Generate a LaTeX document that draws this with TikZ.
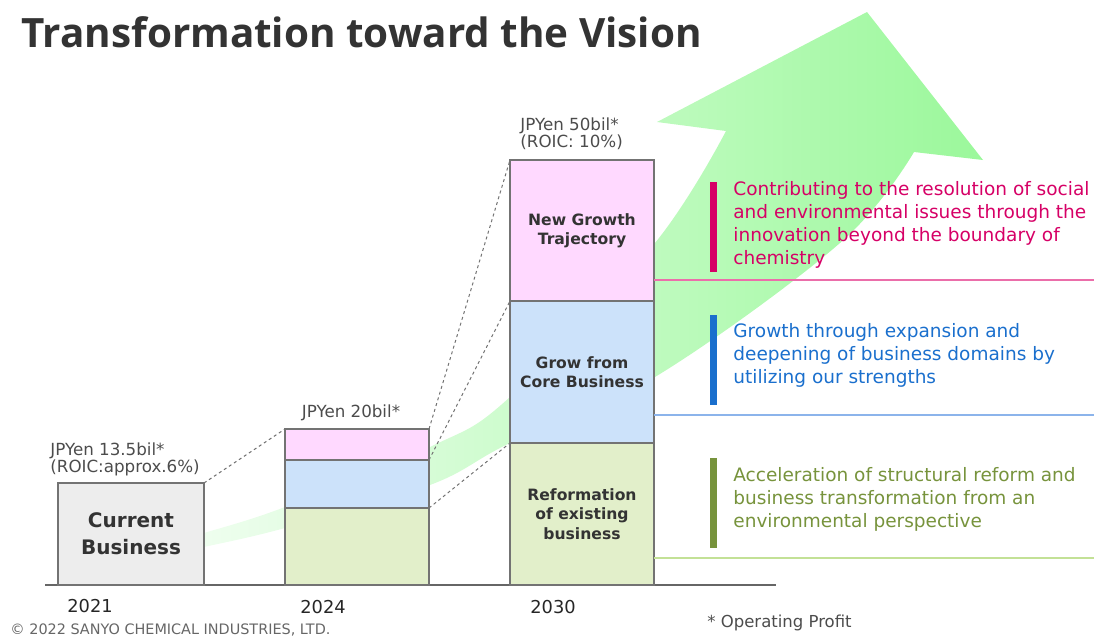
\documentclass[tikz,border=0pt]{standalone}
\usepackage{fontspec}
\setmainfont{DejaVu Sans}
\newfontfamily\titlefont{Open Sans}
\usetikzlibrary{positioning}

\definecolor{titlegray}{RGB}{51,51,51}
\definecolor{arrowgreen}{RGB}{155,248,155}
\definecolor{grayfill}{RGB}{237,237,237}
\definecolor{pinkfill}{RGB}{255,217,255}
\definecolor{bluefill}{RGB}{204,226,250}
\definecolor{greenfill}{RGB}{226,239,202}
\definecolor{aimpink}{RGB}{214,0,102}
\definecolor{aimblue}{RGB}{26,111,205}
\definecolor{aimgreen}{RGB}{119,147,60}
\definecolor{rulepink}{RGB}{235,110,170}
\definecolor{ruleblue}{RGB}{140,180,235}
\definecolor{rulegreen}{RGB}{195,225,150}

\tikzset{
  bar/.style={draw=black!55, line width=0.8pt, inner sep=0pt, outer sep=0pt,
    minimum width=72pt, text=black!80, align=center,
    font=\fontsize{7.8}{9.6}\selectfont\bfseries},
  link/.style={draw=black!55, line width=0.5pt, dash pattern=on 1.5pt off 1.5pt},
  money/.style={anchor=north west, inner sep=0pt, align=left, text=black!70,
    font=\fontsize{8.35}{8.5}\selectfont},
  year/.style={anchor=base west, inner sep=0pt, text=black!85,
    font=\fontsize{8.9}{10}\selectfont},
  aim/.style={anchor=north west, inner sep=0pt, align=left,
    font=\fontsize{9.25}{11.5}\selectfont},
  strip/.style={line width=3.5pt},
  rule/.style={line width=0.6pt},
}

\begin{document}
\begin{tikzpicture}[x=0.5pt,y=-0.5pt]
\useasboundingbox (0,0) rectangle (1094,638);

\node[anchor=base west, inner sep=0pt, text=titlegray,
  font=\titlefont\bfseries\fontsize{20.2}{24}\selectfont] (title) at (21,47)
  {Transformation toward the Vision};

% growth arrow behind the bars
\shade[left color=arrowgreen!15!white, middle color=arrowgreen!70!white, right color=arrowgreen]
  plot[smooth, tension=0.6] coordinates {(190,537) (204,533) (285,507) (430,447) (510,397) (655,243) (726,131)}
  -- (657,122) -- (867,12) -- (983,160) -- (914,152)
  -- plot[smooth, tension=0.6] coordinates {(914,152) (840,243) (655,377) (510,443) (430,485) (285,528) (204,547) (190,550)}
  -- cycle;

% base line
\coordinate (axl) at (45,585);
\coordinate (axr) at (776,585);
\draw[black!60, line width=0.8pt] (axl) -- (axr);

% 2021
\node[bar, fill=grayfill, minimum width=73pt, minimum height=51pt, anchor=south west,
  font=\fontsize{10}{13.3}\selectfont\bfseries] (cur) at (58,585) {Current\\Business};

% 2024
\node[bar, fill=greenfill, minimum height=38.5pt, anchor=south west] (g24) at (285,585) {};
\node[bar, fill=bluefill, minimum height=24pt, above=0pt of g24] (b24) {};
\node[bar, fill=pinkfill, minimum height=15.5pt, above=0pt of b24] (p24) {};

% 2030
\node[bar, fill=greenfill, minimum height=71pt, anchor=south west] (g30) at (510,585)
  {Reformation\\of existing\\business};
\node[bar, fill=bluefill, minimum height=71pt, above=0pt of g30] (b30) {Grow from\\Core Business};
\node[bar, fill=pinkfill, minimum height=70.5pt, above=0pt of b30] (p30) {New Growth\\Trajectory};

% dotted links
\draw[link] (cur.north east) -- (p24.north west);
\draw[link] (p24.north east) -- (p30.north west);
\draw[link] (b24.north east) -- (b30.north west);
\draw[link] (g24.north east) -- (g30.north west);

% amounts
\node[money] (m21) at (50,442) {JPYen 13.5bil*\\(ROIC:approx.6\%)};
\node[money, anchor=base] (m24) at (351,417) {JPYen 20bil*};
\node[money] (m30) at (520,117) {JPYen 50bil*\\(ROIC: 10\%)};

% years
\node[year] (y21) at (67,612) {2021};
\node[year] (y24) at (300,613) {2024};
\node[year] (y30) at (530,613) {2030};

% aims
\draw[rule, rulepink] (654,280) -- (1094,280);
\draw[rule, ruleblue] (654,415) -- (1094,415);
\draw[rule, rulegreen] (654,558) -- (1094,558);
\draw[strip, aimpink] (713,182) -- (713,272);
\draw[strip, aimblue] (713,315) -- (713,405);
\draw[strip, aimgreen] (713,458) -- (713,548);
\node[aim, text=aimpink] (t1) at (733,181)
  {Contributing to the resolution of social\\and environmental issues through the\\innovation beyond the boundary of\\chemistry};
\node[aim, text=aimblue] (t2) at (733,323)
  {Growth through expansion and\\deepening of business domains by\\utilizing our strengths};
\node[aim, text=aimgreen] (t3) at (733,467)
  {Acceleration of structural reform and\\business transformation from an\\environmental perspective};

\node[anchor=base west, inner sep=0pt, text=black!70, font=\fontsize{8.25}{10}\selectfont]
  (note) at (707,627) {* Operating Profit};
\node[anchor=base west, inner sep=0pt, text=black!60, font=\fontsize{7.2}{9}\selectfont]
  (copy) at (10,634) {© 2022 SANYO CHEMICAL INDUSTRIES, LTD.};
\end{tikzpicture}
\end{document}
